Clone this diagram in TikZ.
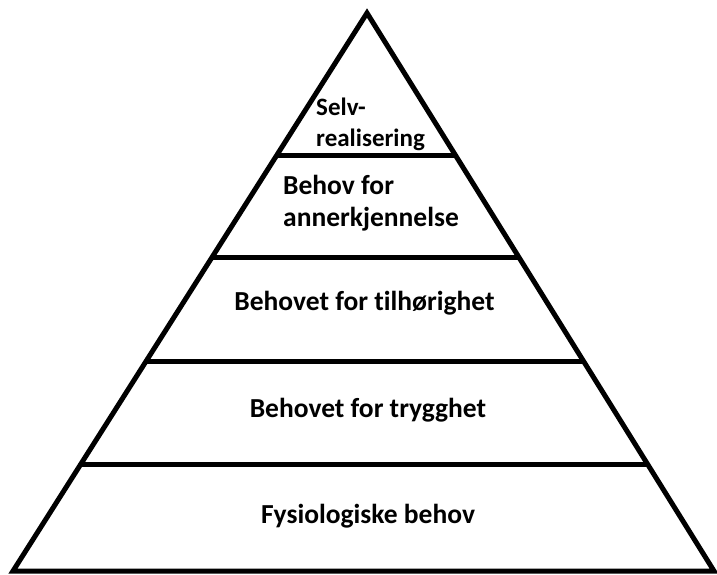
\documentclass[tikz,border=0pt]{standalone}
\usepackage{fontspec}
\setmainfont[Ligatures=NoCommon]{Carlito}
\usetikzlibrary{calc}
\begin{document}
\begin{tikzpicture}[x=1pt,y=-1pt,
  edge/.style={line width=5pt,black},
  level/.style={font=\bfseries\fontsize{27.5}{32}\selectfont,inner sep=0pt,align=left},
  toplevel/.style={level,font=\bfseries\fontsize{25}{31}\selectfont}]
\useasboundingbox (0,0) rectangle (717,574);
% outline of the pyramid
\coordinate (apex) at (367,13);
\coordinate (bl) at (13,571);
\coordinate (br) at (714,571);
\draw[edge,line join=miter] (bl) -- (apex) -- (br) -- cycle;
% dividing lines between the levels
\foreach \yy/\nm in {155/a,257/b,361/c,464/d}{
  \coordinate (l\nm) at ($(bl)!{(571-\yy)/558}!(apex)$);
  \coordinate (r\nm) at ($(br)!{(571-\yy)/558}!(apex)$);
  \draw[edge] (l\nm) -- (r\nm);
}
% level labels
\node[toplevel,anchor=base west] (t1) at (316,146) {Selv-\\realisering};
\node[level,anchor=base west] (t2) at (283,226) {Behov for\\annerkjennelse};
\node[level,anchor=base] (t3) at (364.5,310) {Behovet for tilhørighet};
\node[level,anchor=base] (t4) at (368,417) {Behovet for trygghet};
\node[level,anchor=base] (t5) at (368,523) {Fysiologiske behov};
\end{tikzpicture}
\end{document}
